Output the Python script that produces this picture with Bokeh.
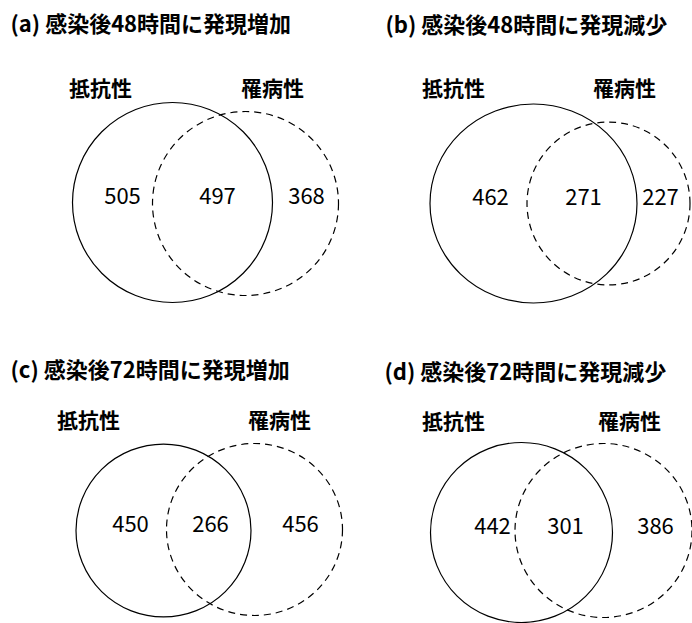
from bokeh.plotting import figure
from bokeh.models import Range1d
from bokeh.core.properties import value
from bokeh.embed import file_html
from bokeh.resources import INLINE

# ---- data ----
panel_titles = [
    "(a) 感染後48時間に発現増加",
    "(b) 感染後48時間に発現減少",
    "(c) 感染後72時間に発現増加",
    "(d) 感染後72時間に発現減少",
]
set_names = ["抵抗性", "罹病性"]
resistant_only = [505, 462, 450, 442]
both = [497, 271, 266, 301]
susceptible_only = [368, 227, 456, 386]

# ---- layout (pixel positions in the picture) ----
title_pos = [(10, 21), (385, 22), (10, 367), (384, 369)]
label_y = [86, 86, 418, 419]
label_x = [(100, 272), (453, 624), (88, 279), (453, 629)]
solid_c = [(172, 202, 200, 200), (533, 203, 207, 199), (163, 530, 175, 173), (521, 532, 182, 180)]
dash_c = [(245, 203, 186, 184), (608, 203, 163, 163), (254, 529, 176, 172), (603, 530, 177, 174)]
num_y = [195, 196, 523, 525]
num_x = [(122, 217, 306), (490, 583, 660), (130, 210, 300), (492, 565, 655)]

FONT = "Noto Sans CJK JP"
W, H = 692, 623

p = figure(width=W, height=H, output_backend="svg", toolbar_location=None,
           x_range=Range1d(0, W), y_range=Range1d(H, 0),
           min_border=0, outline_line_color=None)
p.axis.visible = False
p.grid.visible = False
p.background_fill_color = "white"

# circles
p.ellipse(x=[c[0] for c in solid_c], y=[c[1] for c in solid_c],
          width=[c[2] for c in solid_c], height=[c[3] for c in solid_c],
          fill_color=None, line_color="black", line_width=1.2)
p.ellipse(x=[c[0] for c in dash_c], y=[c[1] for c in dash_c],
          width=[c[2] for c in dash_c], height=[c[3] for c in dash_c],
          fill_color=None, line_color="black", line_width=1.2, line_dash="7 5")

# titles
p.text(x=[t[0] for t in title_pos], y=[t[1] for t in title_pos], text=panel_titles,
       text_font=value(FONT), text_font_size="22px", text_align="left",
       text_baseline="middle", text_color="black", text_font_style="bold")

# set labels
lx, ly, lt = [], [], []
for i in range(4):
    for j in range(2):
        lx.append(label_x[i][j]); ly.append(label_y[i]); lt.append(set_names[j])
p.text(x=lx, y=ly, text=lt, text_font=value(FONT), text_font_size="21px",
       text_align="center", text_baseline="middle", text_color="black",
       text_font_style="bold")

# counts
nx, ny, nt = [], [], []
for i in range(4):
    vals = [resistant_only[i], both[i], susceptible_only[i]]
    for j in range(3):
        nx.append(num_x[i][j]); ny.append(num_y[i]); nt.append(str(vals[j]))
p.text(x=nx, y=ny, text=nt, text_font=value(FONT), text_font_size="22px",
       text_align="center", text_baseline="middle", text_color="black")

open("out.html", "w").write(file_html(p, INLINE))
